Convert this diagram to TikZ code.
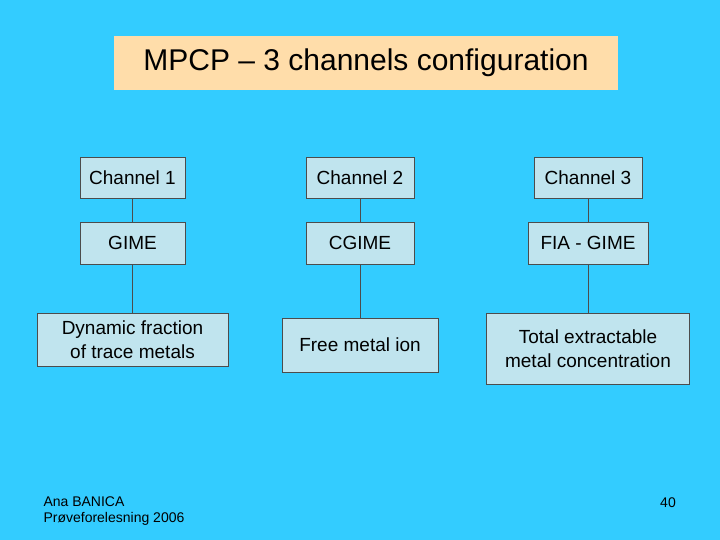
\documentclass[tikz,border=0pt]{standalone}
\usepackage{fontspec}
\setmainfont{Liberation Sans}
\definecolor{slidebg}{HTML}{33CCFF}
\definecolor{titlefill}{HTML}{FFDDAA}
\definecolor{boxfill}{HTML}{C0E4EE}
\begin{document}
\begin{tikzpicture}[x=1pt, y=-1pt]
\tikzset{
  box/.style={draw=black!70, fill=boxfill, inner sep=0pt, align=center,
    font=\fontsize{19}{24}\selectfont},
  foot/.style={font=\fontsize{14}{16}\selectfont, anchor=west, align=left}
}
\fill[slidebg] (0,0) rectangle (720,540);
\useasboundingbox (0,0) rectangle (720,540);

% === Title ===
\node[fill=titlefill, minimum width=504pt, minimum height=54pt,
  font=\fontsize{30}{35}\selectfont] (title) at (366,63) {MPCP -- 3 channels configuration};

% === Channels ===
\node[box, minimum width=105pt, minimum height=41pt] (chan-1) at (132.5,177.5) {Channel 1};
\node[box, minimum width=108pt, minimum height=41pt] (chan-2) at (360,177.5) {Channel 2};
\node[box, minimum width=108pt, minimum height=41pt] (chan-3) at (588,177.5) {Channel 3};

% === Techniques ===
\node[box, minimum width=105pt, minimum height=42pt] (tech-1) at (132.5,243) {GIME};
\node[box, minimum width=108pt, minimum height=42pt] (tech-2) at (360,243) {CGIME};
\node[box, minimum width=120pt, minimum height=42pt] (tech-3) at (588,243) {FIA - GIME};

% === Fractions ===
\node[box, minimum width=191pt, minimum height=53pt] (frac-1) at (132.5,339.5) {Dynamic fraction\\of trace metals};
\node[box, minimum width=156pt, minimum height=54pt] (frac-2) at (360,345) {Free metal ion};
\node[box, minimum width=203pt, minimum height=71pt] (frac-3) at (588,348.5) {Total extractable\\metal concentration};

% === Connections ===
\foreach \i in {1,2,3}{
  \draw[black!70] (chan-\i) -- (tech-\i);
  \draw[black!70] (tech-\i) -- (frac-\i);
}

% === Footer ===
\node[foot] (author) at (40,511) {Ana BANICA\\Prøveforelesning 2006};
\node[font=\fontsize{14}{17}\selectfont] (page) at (668,503) {40};
\end{tikzpicture}
\end{document}
